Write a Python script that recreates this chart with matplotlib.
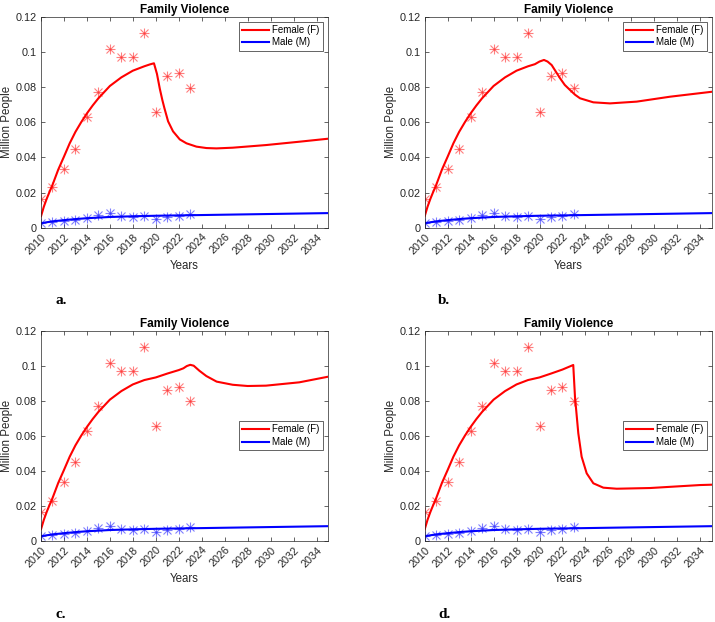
import matplotlib
matplotlib.use("Agg")
import matplotlib.pyplot as plt
import numpy as np

plt.rcParams['font.family'] = ['Liberation Sans', 'DejaVu Sans']

# Observed data
years_obs = [2010, 2011, 2012, 2013, 2014, 2015, 2016, 2017, 2018, 2019, 2020, 2021, 2022, 2023]
female_obs = [0.0165, 0.0229, 0.0336, 0.0447, 0.0627, 0.0772, 0.1014, 0.0969, 0.0969,
              0.1105, 0.0656, 0.0864, 0.0878, 0.0796]
male_obs = [0.0026, 0.0030, 0.0037, 0.0046, 0.0058, 0.0075, 0.0086, 0.0067, 0.0062,
            0.0068, 0.0048, 0.0062, 0.0068, 0.0077]

# Common rising part of the female model curve
rise_t = [2010, 2010.25, 2010.5, 2010.75, 2011, 2011.5, 2012, 2012.5, 2013, 2013.5,
          2014, 2014.5, 2015, 2016, 2017, 2018, 2019]
rise_v = [0.0065, 0.012, 0.0165, 0.0205, 0.0243, 0.033, 0.0404, 0.048, 0.0545, 0.060,
          0.065, 0.0695, 0.0736, 0.0806, 0.0855, 0.0893, 0.0918]

# Panel-specific continuations of the female model curve
fa_t = [2019.5, 2019.84, 2020.1, 2020.35, 2020.57, 2020.75, 2021.07, 2021.5, 2022.09,
        2022.67, 2023.54, 2024.41, 2025.28, 2026.7, 2029.6, 2032.5, 2035]
fa_v = [0.0929, 0.0935, 0.0875, 0.0790, 0.0726, 0.0680, 0.0605, 0.0548, 0.0502,
        0.0480, 0.0461, 0.0453, 0.0451, 0.0455, 0.0470, 0.0489, 0.0506]

fb_t = [2019.6, 2020.0, 2020.39, 2020.7, 2021.06, 2021.4, 2021.79, 2022.2, 2022.66,
        2023.1, 2023.53, 2024.69, 2026.14, 2028.47, 2031.37, 2035]
fb_v = [0.0930, 0.0945, 0.0954, 0.0945, 0.0925, 0.0890, 0.0850, 0.0812, 0.0783,
        0.0756, 0.0736, 0.0713, 0.0707, 0.0717, 0.0745, 0.0773]

fc_t = [2020, 2021, 2022, 2022.4, 2022.7, 2023.0, 2023.3, 2023.8, 2024.4, 2025.3,
        2026.7, 2028.0, 2029.6, 2032.5, 2035]
fc_v = [0.0933, 0.0955, 0.0975, 0.0985, 0.0998, 0.1005, 0.1000, 0.0971, 0.0941, 0.0909,
        0.0891, 0.0884, 0.0886, 0.0905, 0.0937]

fd_t = [2020, 2021, 2022, 2022.94, 2023.09, 2023.38, 2023.67, 2024.11, 2024.69, 2025.56,
        2026.72, 2029.63, 2033.98, 2035]
fd_v = [0.0933, 0.0955, 0.0978, 0.1004, 0.0823, 0.0614, 0.0480, 0.0385, 0.0328, 0.0303,
        0.0297, 0.0301, 0.0318, 0.0320]

# Male model curve (same in all panels)
male_t = [2010, 2010.5, 2011, 2012, 2013, 2014, 2016, 2018, 2020, 2024, 2028, 2032, 2035]
male_v = [0.0025, 0.0031, 0.0036, 0.0043, 0.0049, 0.0054, 0.0061, 0.0065, 0.0068,
          0.0072, 0.0076, 0.0080, 0.0083]

panel_tails = [(fa_t, fa_v), (fb_t, fb_v), (fc_t, fc_v), (fd_t, fd_v)]
panel_labels = ['a.', 'b.', 'c.', 'd.']
legend_locs = ['upper right', 'upper right', 'center right', 'center right']
xticks = list(range(2010, 2035, 2))
yticks = [0, 0.02, 0.04, 0.06, 0.08, 0.1, 0.12]
ytick_labels = ['0', '0.02', '0.04', '0.06', '0.08', '0.1', '0.12']

W, H = 715, 622
fig = plt.figure(figsize=(W / 100, H / 100), dpi=100)

# axes boxes in pixels: (left, top, right, bottom)
boxes = [(41, 16.7, 328, 227.7), (424.7, 16.7, 711.7, 227.7),
         (41, 330.7, 328, 540.7), (424.7, 330.7, 711.7, 540.7)]
label_pos = [(55, 300), (438, 300), (55, 615), (438, 615)]

axcol = '0.15'
for i, (l, t, r, b) in enumerate(boxes):
    ax = fig.add_axes([l / W, 1 - b / H, (r - l) / W, (b - t) / H])
    tt, vv = panel_tails[i]
    ft = rise_t + tt
    fv = rise_v + vv
    # observed markers (asterisk = plus + cross)
    for m in ['+', 'x']:
        ax.plot(years_obs, female_obs, linestyle='none', marker=m, color='red',
                markersize=7 if m == '+' else 5.5, markeredgewidth=0.8, alpha=0.5)
        ax.plot(years_obs, male_obs, linestyle='none', marker=m, color='blue',
                markersize=7 if m == '+' else 5.5, markeredgewidth=0.8, alpha=0.5)
    lf, = ax.plot(ft, fv, color='red', linewidth=1.5, label='Female (F)')
    lm, = ax.plot(male_t, male_v, color='blue', linewidth=1.5, label='Male (M)')

    ax.set_xlim(2010, 2035)
    ax.set_ylim(0, 0.12)
    ax.set_xticks(xticks)
    ax.set_xticklabels([str(x) for x in xticks], rotation=45, ha='right',
                       rotation_mode='anchor', fontsize=7.8, color=axcol)
    ax.set_yticks(yticks)
    ax.set_yticklabels(ytick_labels, fontsize=7.8, color=axcol)
    ax.tick_params(direction='in', length=3, width=0.5, top=True, right=True,
                   color=axcol, pad=3)
    for sp in ax.spines.values():
        sp.set_color(axcol)
        sp.set_linewidth(0.5)
    ax.set_title('Family Violence', fontsize=8.5, fontweight='bold', pad=3, color='black')
    ax.set_xlabel('Years', fontsize=8.3, color=axcol, labelpad=3)
    ax.set_ylabel('Million People', fontsize=8.3, color=axcol, labelpad=2)
    leg = ax.legend(handles=[lf, lm], loc=legend_locs[i], fontsize=7, frameon=True,
                    fancybox=False, framealpha=1, edgecolor=axcol, handlelength=2.8,
                    handletextpad=0.3, borderpad=0.35, labelspacing=0.25,
                    borderaxespad=0.5)
    leg.get_frame().set_linewidth(0.5)

    lx, ly = label_pos[i]
    fig.text(lx / W, 1 - ly / H, panel_labels[i], fontsize=11, fontweight='bold',
             family='Liberation Serif', ha='left', va='center')

fig.savefig('out.png', dpi=100)
